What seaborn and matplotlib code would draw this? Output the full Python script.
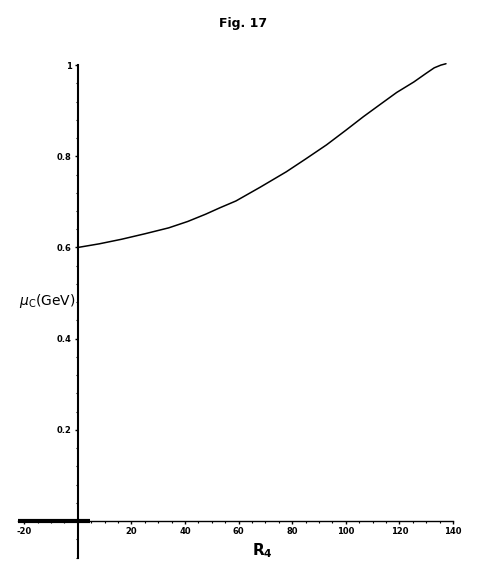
import numpy as np
import pandas as pd
import matplotlib
matplotlib.use("Agg")
import matplotlib.pyplot as plt
import seaborn as sns
from matplotlib.ticker import MultipleLocator

sns.set_style("white")
plt.rcParams['font.family'] = ['DejaVu Sans']
plt.rcParams['text.color'] = 'black'

# curve values
r4 = [0, 8, 16.3, 25, 33.9, 41, 47.7, 53, 59, 68, 77.8, 85, 92.8, 100, 106.6, 112.9, 119, 125.4, 130, 133, 135.5, 137.4]
mu_c = [0.600, 0.608, 0.618, 0.630, 0.643, 0.657, 0.673, 0.687, 0.702, 0.732, 0.766, 0.794, 0.825, 0.857, 0.887, 0.914, 0.940, 0.963, 0.982, 0.994, 1.000, 1.003]

x_ticks = [-20, 20, 40, 60, 80, 100, 120, 140]
x_tick_labels = ["-20", "20", "40", "60", "80", "100", "120", "140"]
y_ticks = [0.2, 0.4, 0.6, 0.8, 1.0]
y_tick_labels = ["0.2", "0.4", "0.6", "0.8", "1"]

df = pd.DataFrame({"R4": r4, "mu": mu_c})

fig = plt.figure(figsize=(5.02, 5.66), dpi=100)
ax = fig.add_axes([0.035, 0.015, 0.87, 0.87])

sns.lineplot(data=df, x="R4", y="mu", color="black", lw=1.1, ax=ax)
for ln in ax.get_lines():
    ln.set_clip_on(False)

ax.set_xlim(-22.5, 140.5)
ax.set_ylim(-0.08, 1.0)

# axes crossing at origin, Mathematica style
for side in ["top", "right"]:
    ax.spines[side].set_visible(False)
ax.spines["left"].set_position(("data", 0))
ax.spines["bottom"].set_position(("data", 0))
ax.spines["left"].set_linewidth(1.5)
ax.spines["bottom"].set_linewidth(1.0)
ax.spines["left"].set_color("black")
ax.spines["bottom"].set_color("black")
ax.spines["left"].set_bounds(-0.08, 1.0)
ax.spines["bottom"].set_bounds(-22.5, 140)

# thick stub on the x axis near the origin
ax.plot([-22.5, 4.5], [0, 0], color="black", lw=3, solid_capstyle="butt")

ax.set_xticks(x_ticks)
ax.set_xticklabels(x_tick_labels)
ax.set_yticks(y_ticks)
ax.set_yticklabels(y_tick_labels)
ax.xaxis.set_minor_locator(MultipleLocator(5))
ax.yaxis.set_minor_locator(MultipleLocator(0.04))
ax.tick_params(axis="both", which="both", bottom=True, left=True, direction="out")
ax.tick_params(axis="both", which="major", length=2.5, width=1,
               labelsize=6, colors="black", pad=2)
ax.tick_params(axis="both", which="minor", length=1.5, width=0.8, colors="black")
for lab in ax.get_xticklabels() + ax.get_yticklabels():
    lab.set_fontweight("bold")

ax.set_xlabel("")
ax.set_ylabel("")
fig.text(0.522, 0.028, r"$\mathbf{R_4}$", ha="center", va="center", fontsize=11)
fig.text(0.038, 0.468, r"$\mu_{\mathrm{C}}$(GeV)", ha="left", va="center", fontsize=10)
fig.text(0.484, 0.958, "Fig. 17", ha="center", va="center", fontsize=9, fontweight="bold")

fig.savefig("out.png", dpi=100, facecolor="white")
